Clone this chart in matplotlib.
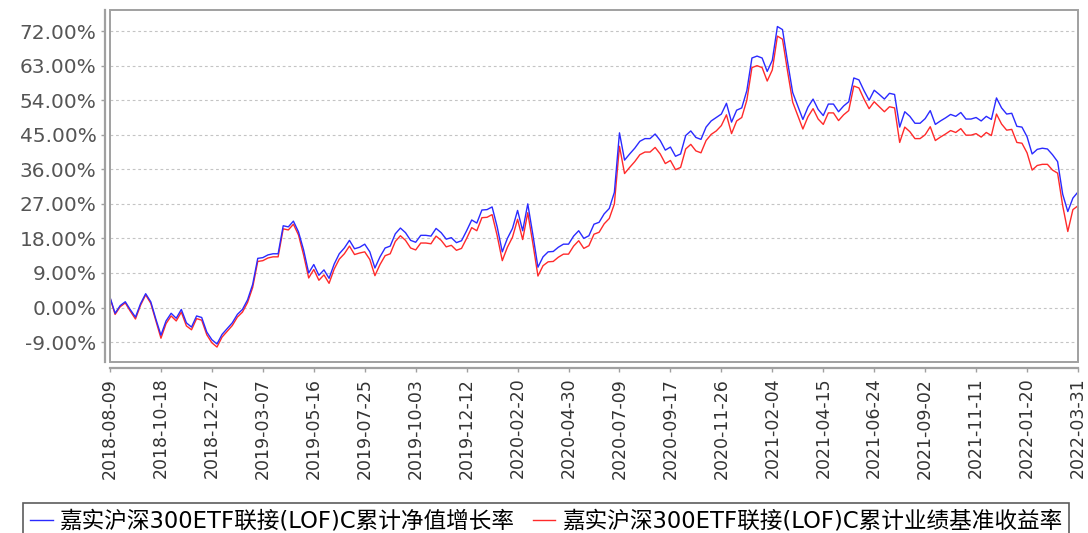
import numpy as np
import pandas as pd
import matplotlib
matplotlib.use('Agg')
import matplotlib.pyplot as plt
import matplotlib.ticker as mticker
from matplotlib.patches import Rectangle

# weekly readings, 2018-08-09 .. 2022-03-31 (values in %)
dates = pd.date_range('2018-08-09', '2022-03-31', freq='7D')

nav_growth = [
    2.7, -1.5, 0.5, 1.5, -0.6, -2.5, 1.0, 3.6, 1.5, -3.0,
    -7.2, -3.5, -1.5, -2.8, -0.5, -4.0, -5.1, -2.2, -2.6, -6.4,
    -8.4, -9.5, -7.0, -5.5, -4.0, -1.8, -0.5, 2.0, 6.0, 12.8,
    13.0, 13.7, 14.0, 14.0, 21.3, 21.0, 22.5, 19.7, 15.0, 9.0,
    11.2, 8.4, 9.8, 7.6, 11.3, 14.0, 15.5, 17.5, 15.3, 15.7,
    16.5, 14.5, 10.3, 13.2, 15.5, 16.0, 19.2, 20.7, 19.5, 17.5,
    17.0, 18.8, 18.8, 18.6, 20.6, 19.5, 17.8, 18.2, 16.9, 17.4,
    20.0, 22.8, 22.0, 25.4, 25.5, 26.2, 21.0, 14.5, 18.0, 20.6,
    25.3, 20.0, 27.0, 19.0, 10.5, 13.2, 14.5, 14.6, 15.7, 16.5,
    16.5, 18.6, 20.0, 18.0, 18.7, 21.7, 22.2, 24.4, 25.8, 30.0,
    45.5, 38.4, 40.0, 41.5, 43.3, 44.0, 44.0, 45.2, 43.5, 41.0,
    41.8, 39.4, 40.0, 44.8, 46.0, 44.3, 43.8, 47.0, 48.6, 49.5,
    50.4, 53.2, 48.3, 51.4, 52.0, 56.5, 65.0, 65.5, 65.0, 61.5,
    64.4, 73.2, 72.4, 64.0, 56.0, 52.5, 49.0, 52.2, 54.3, 51.6,
    50.0, 53.0, 53.0, 51.0, 52.5, 53.6, 59.8, 59.3, 56.5, 54.0,
    56.6, 55.5, 54.3, 55.8, 55.5, 47.0, 51.0, 49.8, 48.0, 48.0,
    49.2, 51.3, 47.7, 48.6, 49.4, 50.3, 49.8, 50.8, 49.1, 49.1,
    49.5, 48.6, 49.8, 49.0, 54.6, 52.0, 50.4, 50.6, 47.2, 47.0,
    44.5, 40.0, 41.2, 41.5, 41.3, 39.8, 38.0, 29.5, 25.0, 28.5, 30.1,
]

benchmark = [
    2.5, -1.8, 0.2, 1.2, -1.0, -3.0, 0.6, 3.3, 1.1, -3.5,
    -8.0, -4.2, -2.2, -3.5, -1.2, -4.8, -5.8, -2.9, -3.3, -7.1,
    -9.2, -10.3, -7.7, -6.2, -4.7, -2.5, -1.2, 1.3, 5.2, 12.0,
    12.2, 12.9, 13.2, 13.2, 20.5, 20.2, 21.7, 18.9, 13.7, 7.7,
    9.9, 7.1, 8.5, 6.3, 10.0, 12.6, 14.0, 16.0, 13.8, 14.2,
    14.5, 12.5, 8.3, 11.2, 13.5, 14.0, 17.2, 18.7, 17.5, 15.5,
    15.0, 16.8, 16.8, 16.6, 18.6, 17.5, 15.8, 16.2, 14.9, 15.4,
    18.0, 20.8, 20.0, 23.4, 23.5, 24.2, 18.7, 12.2, 15.7, 18.3,
    23.0, 17.7, 24.7, 16.7, 8.2, 10.9, 11.9, 12.0, 13.1, 13.9,
    13.9, 16.0, 17.4, 15.4, 16.1, 19.1, 19.6, 21.8, 23.2, 27.0,
    42.0, 34.9, 36.5, 38.0, 39.8, 40.5, 40.5, 41.7, 40.0, 37.5,
    38.3, 35.9, 36.5, 41.3, 42.5, 40.8, 40.3, 43.5, 45.1, 46.0,
    47.4, 50.2, 45.3, 48.6, 49.5, 54.0, 62.5, 63.0, 62.5, 59.0,
    61.9, 70.7, 69.9, 61.5, 53.5, 50.0, 46.5, 49.7, 51.8, 49.1,
    47.7, 50.7, 50.7, 48.7, 50.2, 51.3, 57.7, 57.2, 54.3, 51.8,
    53.6, 52.3, 51.0, 52.3, 52.0, 43.0, 47.0, 45.8, 44.0, 44.0,
    45.0, 47.1, 43.5, 44.4, 45.2, 46.1, 45.6, 46.6, 44.9, 44.9,
    45.3, 44.4, 45.6, 44.8, 50.4, 47.8, 46.2, 46.4, 43.0, 42.8,
    40.3, 35.8, 37.0, 37.3, 37.3, 35.8, 35.0, 26.5, 19.8, 25.5, 26.5,
]

labels = ['嘉实沪深300ETF联接(LOF)C累计净值增长率',
          '嘉实沪深300ETF联接(LOF)C累计业绩基准收益率']

xticks = pd.date_range('2018-08-09', periods=20, freq='70D')
yticks = np.arange(-9, 73, 9)

fig = plt.figure(figsize=(10.88, 5.33), dpi=100)
ax = fig.add_axes([0.1011, 0.3208, 0.8897, 0.6604])

l2, = ax.plot(dates, benchmark, color='#ff2a2a', lw=1.0, zorder=2)
l1, = ax.plot(dates, nav_growth, color='#2a2aff', lw=1.0, zorder=3)

ax.set_xlim(xticks[0], xticks[-1])
ax.set_ylim(-14.2, 77.5)
ax.set_yticks(yticks)
ax.yaxis.set_major_formatter(mticker.FuncFormatter(lambda v, p: '%.2f%%' % v))
ax.set_xticks(xticks)
ax.set_xticklabels([d.strftime('%Y-%m-%d') for d in xticks])

ax.yaxis.grid(True, color='#c4c4c4', lw=0.8, linestyle=(0, (2.5, 2.5)))
ax.set_axisbelow(True)

for s in ['top', 'right']:
    ax.spines[s].set_visible(False)
ax.spines['left'].set_position(('outward', 3.6))
ax.spines['bottom'].set_position(('outward', 4.3))
for s in ['left', 'bottom']:
    ax.spines[s].set_color('#a0a0a0')
    ax.spines[s].set_linewidth(1.6)
ax.add_patch(Rectangle((0, 0), 1, 1, transform=ax.transAxes, fill=False,
                       edgecolor='#a0a0a0', lw=1.4, clip_on=False, zorder=5))

ax.tick_params(axis='y', labelsize=14.5, labelcolor='#555555', color='#a0a0a0',
               length=3, width=1, pad=3)
ax.tick_params(axis='x', labelsize=12.5, labelcolor='#333333', color='#a0a0a0',
               length=3, width=1, pad=4, labelrotation=90)

leg = fig.legend([l1, l2], labels, loc='upper center', bbox_to_anchor=(0.502, 1 - 503 / 533),
                 ncol=2, frameon=True, fancybox=False, edgecolor='#333333',
                 prop={'family': ['DejaVu Sans', 'Noto Sans CJK SC'], 'size': 16.3},
                 handlelength=1.0, handletextpad=0.3, columnspacing=0.8,
                 borderpad=0.3, borderaxespad=0)
leg.get_frame().set_linewidth(1.2)

fig.savefig('out.png', dpi=100)
